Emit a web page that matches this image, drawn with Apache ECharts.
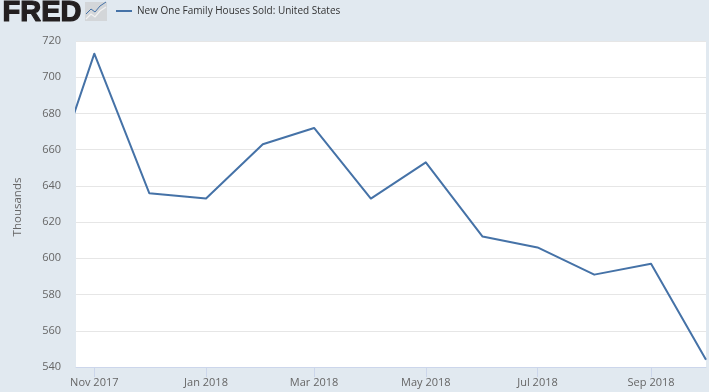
<!DOCTYPE html>
<html><head><meta charset="utf-8">
<script src="https://cdn.jsdelivr.net/npm/echarts@6/dist/echarts.min.js"></script>
<style>html,body{margin:0;padding:0;background:#e1e9f0}#c{width:709px;height:392px}</style>
</head><body><div id="c"></div>
<script>
const seriesName = 'New One Family Houses Sold: United States';
const yAxisName = 'Thousands';
const dates = ['2017-10-01','2017-11-01','2017-12-01','2018-01-01','2018-02-01','2018-03-01','2018-04-01','2018-05-01','2018-06-01','2018-07-01','2018-08-01','2018-09-01','2018-10-01'];
const values = [620,713,636,633,663,672,633,653,612,606,591,597,544];
const tickDates = ['2017-11-01','2018-01-01','2018-03-01','2018-05-01','2018-07-01','2018-09-01'];
const tickLabels = ['Nov 2017','Jan 2018','Mar 2018','May 2018','Jul 2018','Sep 2018'];
const ts = s => Date.parse(s + 'T00:00:00Z');
const labelByTime = {};
tickDates.forEach((d, i) => { labelByTime[ts(d)] = tickLabels[i]; });
const font = '"Open Sans", sans-serif';
const chart = echarts.init(document.getElementById('c'), null, {renderer: 'canvas'});
chart.setOption({
  animation: false,
  backgroundColor: '#e1e9f0',
  grid: {left: 76, right: 3, top: 41, bottom: 25, backgroundColor: '#ffffff', show: true, borderWidth: 0},
  legend: {
    left: 111, top: 1, itemWidth: 16, itemHeight: 2, itemGap: 5, icon: 'rect',
    textStyle: {fontFamily: font, fontSize: 10, color: '#333333'},
    data: [seriesName]
  },
  xAxis: {
    type: 'value',
    min: ts('2017-10-22'), max: ts('2018-10-01'),
    axisLine: {show: true, onZero: false, lineStyle: {color: '#ccd6eb', width: 1}},
    axisTick: {show: true, length: 10, customValues: tickDates.map(ts), lineStyle: {color: '#ccd6eb', width: 1}},
    axisLabel: {
      customValues: tickDates.map(ts), margin: 10, hideOverlap: false,
      fontFamily: font, fontSize: 11, color: '#666666',
      formatter: v => labelByTime[v] || ''
    },
    splitLine: {show: false}
  },
  yAxis: {
    type: 'value', min: 540, max: 720, interval: 20,
    name: yAxisName, nameLocation: 'middle', nameGap: 52, nameRotate: 90,
    nameTextStyle: {fontFamily: font, fontSize: 11.5, color: '#666666', padding: [0, 6, 0, 0]},
    axisLine: {show: false}, axisTick: {show: false},
    axisLabel: {margin: 15, fontFamily: font, fontSize: 11, color: '#666666', lineHeight: 16, verticalAlign: 'middle', padding: [3, 0, 0, 0]},
    splitLine: {show: true, lineStyle: {color: '#e6e6e6', width: 1}}
  },
  series: [{
    name: seriesName, type: 'line', showSymbol: false, symbol: 'none', clip: true,
    data: dates.map((d, i) => [ts(d), values[i]]),
    lineStyle: {color: '#4572a7', width: 2, join: 'round'}, itemStyle: {color: '#4572a7'}
  }],
  graphic: [
    {type: 'text', left: 2, top: -2, style: {text: 'FRED', fontFamily: '"Liberation Sans", Arial, sans-serif', fontWeight: 900, fontSize: 29, fill: '#231f20', stroke: '#231f20', lineWidth: 1.2}},
    {type: 'rect', shape: {x: 85, y: 2, width: 22, height: 19}, style: {fill: '#d3d6d9'}},
    {type: 'polyline', shape: {points: [[86,14],[91,9],[95,12],[100,6],[106,2]]}, style: {stroke: '#4572a7', fill: 'none', lineWidth: 1}},
    {type: 'polyline', shape: {points: [[86,19],[91,14],[95,17],[100,11],[106,7]]}, style: {stroke: '#f2f2f2', fill: 'none', lineWidth: 1.2}}
  ]
});
</script></body></html>
